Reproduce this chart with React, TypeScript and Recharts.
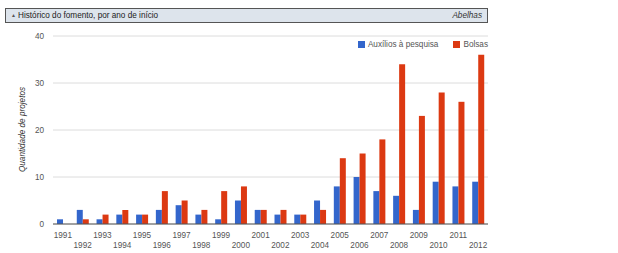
import React from "react";
import { BarChart, Bar, XAxis, YAxis, CartesianGrid } from "recharts";

const years = [
  "1991", "1992", "1993", "1994", "1995", "1996", "1997", "1998", "1999", "2000", "2001",
  "2002", "2003", "2004", "2005", "2006", "2007", "2008", "2009", "2010", "2011", "2012",
];
const auxilios = [1, 3, 1, 2, 2, 3, 4, 2, 1, 5, 3, 2, 2, 5, 8, 10, 7, 6, 3, 9, 8, 9];
const bolsas = [0, 1, 2, 3, 2, 7, 5, 3, 7, 8, 3, 3, 2, 3, 14, 15, 18, 34, 23, 28, 26, 36];
const yTicks = [0, 10, 20, 30, 40];
const seriesNames = ["Auxílios à pesquisa", "Bolsas"];
const seriesColors = ["#3366cc", "#dc3912"];

const data = years.map((year, i) => ({ year, aux: auxilios[i], bolsas: bolsas[i] }));

const FONT = "'Liberation Sans', Arial, sans-serif";

function XTick(props: any) {
  const { x, y, payload, index } = props;
  const idx = index ?? payload.index ?? 0;
  return (
    <text
      x={x}
      y={y + (idx % 2 === 0 ? 13.5 : 23.5)}
      textAnchor="middle"
      fontSize={8.2}
      fontFamily={FONT}
      fill="#555"
    >
      {payload.value}
    </text>
  );
}

function YTick(props: any) {
  const { y, payload } = props;
  return (
    <text x={44} y={y + 3} textAnchor="end" fontSize={8.2} fontFamily={FONT} fill="#555">
      {payload.value}
    </text>
  );
}

export default function App() {
  return (
    <div
      style={{
        position: "absolute",
        left: 0,
        top: 0,
        width: 618,
        height: 253,
        background: "#fff",
        fontFamily: FONT,
      }}
    >
      {/* header bar */}
      <div
        style={{
          position: "absolute",
          left: 5,
          top: 8,
          width: 481,
          height: 13,
          border: "1px solid #555",
          background: "#dde4ec",
          fontSize: 8.2,
          color: "#222",
          lineHeight: "13px",
        }}
      >
        <span style={{ position: "absolute", left: 5, fontSize: 5, color: "#555" }}>▲</span>
        <span style={{ position: "absolute", left: 12 }}>Histórico do fomento, por ano de início</span>
        <span style={{ position: "absolute", right: 5, fontStyle: "italic", color: "#333" }}>Abelhas</span>
      </div>

      <div style={{ position: "absolute", left: 0, top: 0 }}>
        <BarChart
          width={618}
          height={253}
          data={data}
          margin={{ top: 36, right: 130, bottom: 0, left: 0 }}
          barSize={6}
          barGap={0}
        >
          <CartesianGrid vertical={false} stroke="#dcdcdc" />
          <XAxis
            dataKey="year"
            interval={0}
            height={29}
            tickSize={0}
            tickMargin={0}
            tickLine={false}
            axisLine={{ stroke: "#555" }}
            tick={<XTick />}
          />
          <YAxis
            width={53}
            domain={[0, 40]}
            ticks={yTicks}
            axisLine={false}
            tickLine={false}
            tick={<YTick />}
          />
          <Bar dataKey="aux" name={seriesNames[0]} fill={seriesColors[0]} isAnimationActive={false} />
          <Bar dataKey="bolsas" name={seriesNames[1]} fill={seriesColors[1]} isAnimationActive={false} />
          <text
            x={25}
            y={129.5}
            transform="rotate(-90 25 129.5)"
            textAnchor="middle"
            fontSize={8.2}
            fontStyle="italic"
            fontFamily={FONT}
            fill="#333"
          >
            Quantidade de projetos
          </text>
        </BarChart>
      </div>

      {/* legend */}
      <div
        style={{
          position: "absolute",
          top: 40,
          right: 130,
          display: "flex",
          alignItems: "center",
          fontSize: 8.2,
          color: "#555",
          lineHeight: "9px",
        }}
      >
        {seriesNames.map((name, i) => (
          <div key={name} style={{ display: "flex", alignItems: "center", marginLeft: i ? 15 : 0 }}>
            <span
              style={{
                display: "inline-block",
                width: 7,
                height: 7,
                background: seriesColors[i],
                marginRight: 3,
              }}
            />
            <span>{name}</span>
          </div>
        ))}
      </div>
    </div>
  );
}
